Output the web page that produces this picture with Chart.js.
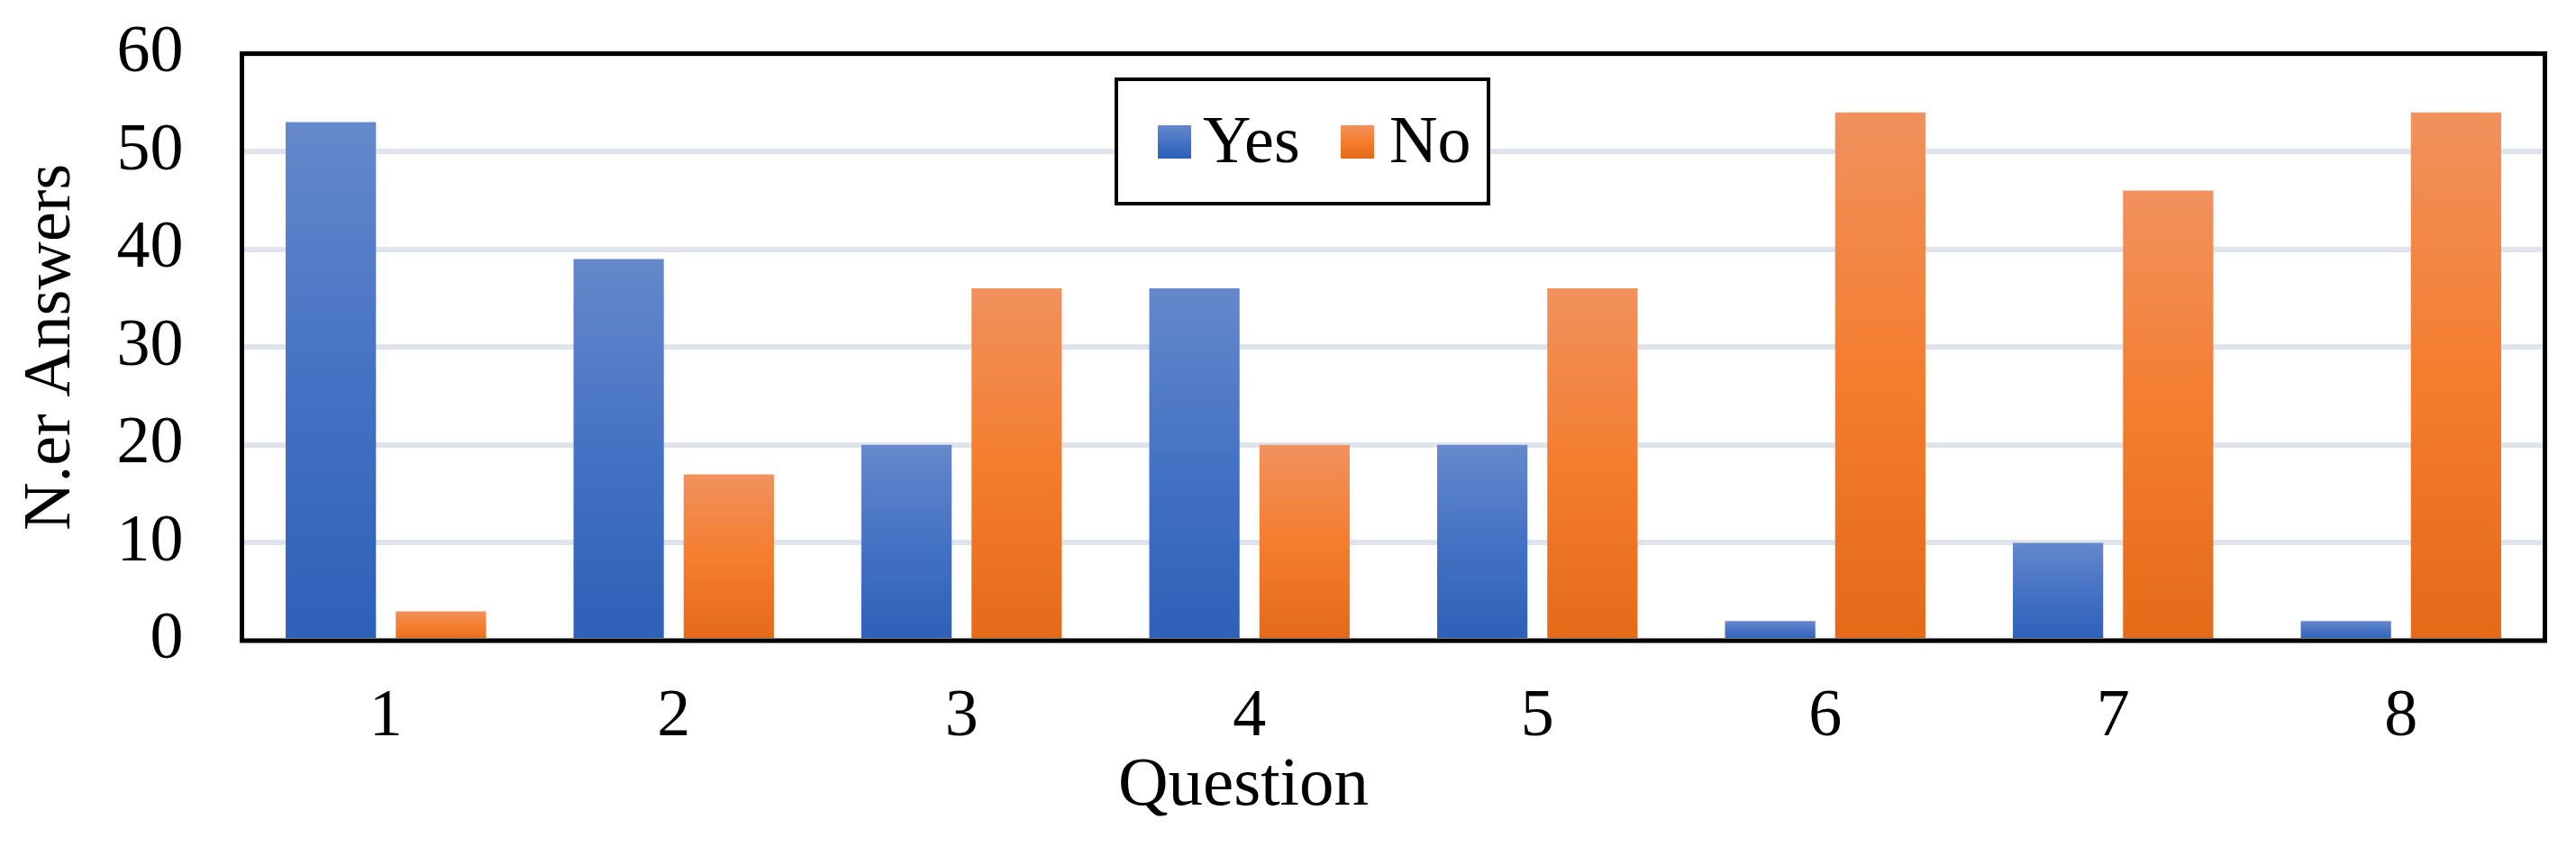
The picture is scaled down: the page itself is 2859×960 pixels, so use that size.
<!DOCTYPE html>
<html>
<head>
<meta charset="utf-8">
<script src="https://cdn.jsdelivr.net/npm/chart.js@4.4.0/dist/chart.umd.min.js"></script>
<style>
html,body{margin:0;padding:0;background:#ffffff;}
#wrap{width:2859px;height:960px;}
canvas{display:block;}
</style>
</head>
<body>
<div id="wrap"><canvas id="c" width="2859" height="960"></canvas></div>
<script>
// ---- data ----
const categories = ['1', '2', '3', '4', '5', '6', '7', '8'];
const yesValues = [53, 39, 20, 36, 20, 2, 10, 2];
const noValues = [3, 17, 36, 20, 36, 54, 46, 54];
const yTickValues = [0, 10, 20, 30, 40, 50, 60];
const seriesLabels = ['Yes', 'No'];
const xTitle = 'Question';
const yTitle = 'N.er Answers';

// ---- style ----
const FONT = "'Liberation Serif', 'Times New Roman', serif";
const FSIZE = 74;
const blueStops = ['#6688CC', '#4472C4', '#2E60B8'];
const orangeStops = ['#F1915E', '#F47D2E', '#E46A18'];

function barGradient(ctx, stops) {
  const chart = ctx.chart;
  if (!chart.chartArea || ctx.type !== 'data') return stops[1];
  const v = ctx.raw;
  const y = chart.scales.y;
  const top = y.getPixelForValue(v);
  const bot = y.getPixelForValue(0);
  const g = chart.ctx.createLinearGradient(0, top, 0, bot === top ? top + 1 : bot);
  g.addColorStop(0, stops[0]);
  g.addColorStop(0.5, stops[1]);
  g.addColorStop(1, stops[2]);
  return g;
}

const framePlugin = {
  id: 'frame',
  afterDatasetsDraw(chart) {
    const { ctx, chartArea: a } = chart;
    ctx.save();
    ctx.strokeStyle = '#000000';
    ctx.lineWidth = 5;
    ctx.strokeRect(a.left, a.top, a.right - a.left, a.bottom - a.top);
    ctx.restore();
  }
};

const xTitlePlugin = {
  id: 'xTitle',
  afterDraw(chart) {
    const ctx = chart.ctx;
    ctx.save();
    ctx.fillStyle = '#000000';
    ctx.font = '77px ' + FONT;
    ctx.textAlign = 'center';
    ctx.textBaseline = 'alphabetic';
    ctx.fillText(xTitle, 1380, 893);
    ctx.restore();
  }
};

const legendPlugin = {
  id: 'boxLegend',
  afterDraw(chart) {
    const ctx = chart.ctx;
    const bx = 1239, by = 88, bw = 413, bh = 138;
    ctx.save();
    ctx.fillStyle = '#ffffff';
    ctx.fillRect(bx, by, bw, bh);
    ctx.strokeStyle = '#000000';
    ctx.lineWidth = 4;
    ctx.strokeRect(bx, by, bw, bh);
    const items = [
      { label: chart.data.datasets[0].label, stops: blueStops, sx: 1285, tx: 1335 },
      { label: chart.data.datasets[1].label, stops: orangeStops, sx: 1488, tx: 1542 }
    ];
    const sy = 139, ss = 37;
    items.forEach(it => {
      const g = ctx.createLinearGradient(0, sy, 0, sy + ss);
      g.addColorStop(0, it.stops[0]);
      g.addColorStop(0.5, it.stops[1]);
      g.addColorStop(1, it.stops[2]);
      ctx.fillStyle = g;
      ctx.fillRect(it.sx, sy, ss, ss);
      ctx.fillStyle = '#000000';
      ctx.font = FSIZE + 'px ' + FONT;
      ctx.textAlign = 'left';
      ctx.textBaseline = 'alphabetic';
      ctx.fillText(it.label, it.tx, 180);
    });
    ctx.restore();
  }
};

const fontObj = { family: FONT, size: FSIZE, lineHeight: 1 };

new Chart(document.getElementById('c'), {
  type: 'bar',
  data: {
    labels: categories,
    datasets: [
      { label: seriesLabels[0], data: yesValues, backgroundColor: (c) => barGradient(c, blueStops), borderWidth: 0 },
      { label: seriesLabels[1], data: noValues, backgroundColor: (c) => barGradient(c, orangeStops), borderWidth: 0 }
    ]
  },
  options: {
    responsive: false,
    animation: false,
    devicePixelRatio: 1,
    layout: { padding: { left: 0, top: 59.5, right: 34.5, bottom: 0 } },
    datasets: { bar: { categoryPercentage: 0.765, barPercentage: 0.82 } },
    plugins: { legend: { display: false }, tooltip: { enabled: false } },
    scales: {
      x: {
        grid: { display: false, drawTicks: false },
        border: { display: false },
        ticks: { padding: 49, color: '#000000', font: fontObj, maxRotation: 0 },
        title: { display: false },
        afterFit(s) { s.height = 249; s.paddingLeft = 0; s.paddingRight = 0; }
      },
      y: {
        min: 0,
        max: 60,
        afterBuildTicks(s) { s.ticks = yTickValues.map(v => ({ value: v })); },
        grid: { color: '#DFE3EB', lineWidth: 6, drawTicks: false },
        border: { display: false },
        ticks: { padding: 65, color: '#000000', font: fontObj },
        title: { display: true, text: yTitle, color: '#000000', font: fontObj, padding: { top: 21, bottom: 0 } },
        afterFit(s) { s.width = 268.5; s.paddingTop = 0; s.paddingBottom = 0; }
      }
    }
  },
  plugins: [framePlugin, legendPlugin, xTitlePlugin]
});
</script>
</body>
</html>
